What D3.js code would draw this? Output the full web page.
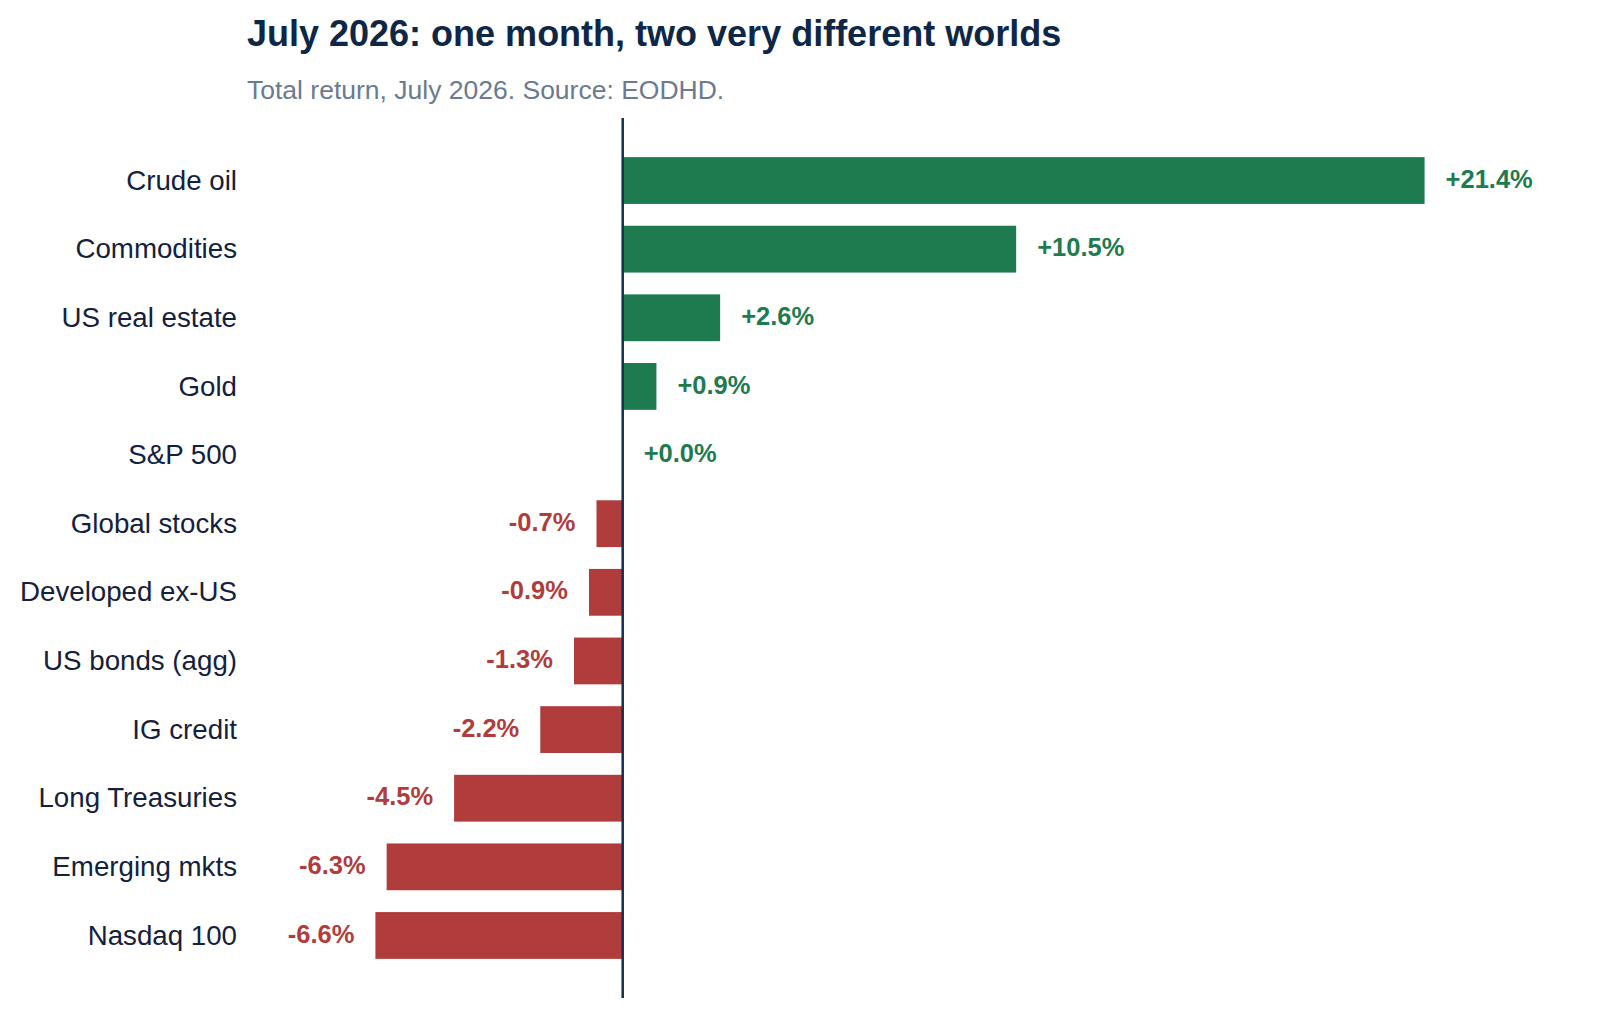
<!DOCTYPE html>
<html>
<head>
<meta charset="utf-8">
<script src="https://cdn.jsdelivr.net/npm/d3@7"></script>
<style>
  html, body { margin: 0; padding: 0; background: #fff; }
  svg { display: block; font-family: "Liberation Sans", Arial, sans-serif; }
</style>
</head>
<body>
<svg width="1619" height="1018"></svg>
<script>
// data (total return, %)
const categories = ["Crude oil", "Commodities", "US real estate", "Gold", "S&P 500",
  "Global stocks", "Developed ex-US", "US bonds (agg)", "IG credit",
  "Long Treasuries", "Emerging mkts", "Nasdaq 100"];
const returns = [21.4, 10.5, 2.6, 0.9, 0.0, -0.7, -0.9, -1.3, -2.2, -4.5, -6.3, -6.6];
const xDomain = [-10, 24];

const green = "#1e7b4f";
const red = "#b03c3c";
const navy = "#0f2747";

const svg = d3.select("svg");

// title
svg.append("text")
    .attr("x", 247)
    .attr("y", 46)
    .attr("font-size", "36px")
    .attr("font-weight", "bold")
    .attr("fill", navy)
    .text("July 2026: one month, two very different worlds");

svg.append("text")
    .attr("x", 247)
    .attr("y", 99)
    .attr("font-size", "26.5px")
    .attr("fill", "#6b7a90")
    .text("Total return, July 2026. Source: EODHD.");

// scales
const x = d3.scaleLinear()
    .domain(xDomain)
    .range([248, 1522]);

const y = d3.scaleBand()
    .domain(categories)
    .range([118, 998])
    .paddingInner(0.318)
    .paddingOuter(0.57);

const rows = categories.map(function (c, i) { return {name: c, value: returns[i]}; });

// category labels
svg.append("g")
    .selectAll("text")
    .data(rows)
    .enter().append("text")
    .attr("x", 237)
    .attr("y", function (d) { return y(d.name) + y.bandwidth() / 2; })
    .attr("dy", "0.33em")
    .attr("text-anchor", "end")
    .attr("font-size", "27.7px")
    .attr("fill", "#14213d")
    .text(function (d) { return d.name; });

// bars
svg.append("g")
    .selectAll("rect")
    .data(rows)
    .enter().append("rect")
    .attr("x", function (d) { return x(Math.min(0, d.value)); })
    .attr("y", function (d) { return y(d.name); })
    .attr("width", function (d) { return Math.abs(x(d.value) - x(0)); })
    .attr("height", y.bandwidth())
    .attr("fill", function (d) { return d.value >= 0 ? green : red; });

// value labels
svg.append("g")
    .selectAll("text")
    .data(rows)
    .enter().append("text")
    .attr("x", function (d) { return d.value >= 0 ? x(d.value) + 21 : x(d.value) - 21; })
    .attr("y", function (d) { return y(d.name) + y.bandwidth() / 2; })
    .attr("dy", "0.28em")
    .attr("text-anchor", function (d) { return d.value >= 0 ? "start" : "end"; })
    .attr("font-size", "25.5px")
    .attr("font-weight", "bold")
    .attr("fill", function (d) { return d.value >= 0 ? green : red; })
    .text(function (d) { return (d.value >= 0 ? "+" : "") + d.value.toFixed(1) + "%"; });

// zero line
svg.append("line")
    .attr("x1", x(0))
    .attr("x2", x(0))
    .attr("y1", 118)
    .attr("y2", 998)
    .attr("stroke", "#132f55")
    .attr("stroke-width", 2.5);
</script>
</body>
</html>
